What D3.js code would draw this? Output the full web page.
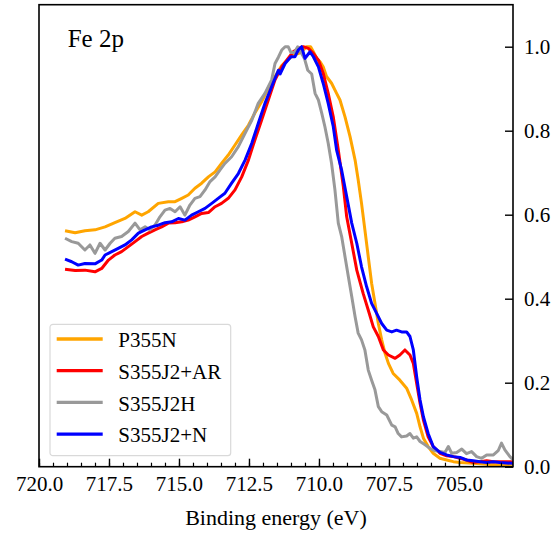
<!DOCTYPE html>
<html>
<head>
<meta charset="utf-8">
<script src="https://cdn.jsdelivr.net/npm/d3@7"></script>
<style>
  body { margin: 0; background: #fff; }
</style>
</head>
<body>
<div id="chart"></div>
<script>
// series names and colours (legend order)
var seriesNames = ["P355N", "S355J2+AR", "S355J2H", "S355J2+N"];
var seriesColors = ["#ffa500", "#ff0000", "#999999", "#0000ff"];

// [binding energy (eV), normalised intensity]
var p355n = [[719.07,0.562],[718.71,0.557],[718.36,0.562],[718.0,0.564],[717.64,0.571],[717.29,0.581],[716.93,0.591],[716.57,0.607],[716.33,0.599],[716.10,0.607],[715.74,0.627],[715.38,0.631],[715.14,0.631],[714.90,0.639],[714.67,0.647],[714.43,0.663],[714.19,0.675],[713.95,0.690],[713.71,0.702],[713.48,0.722],[713.24,0.742],[713.0,0.766],[712.76,0.790],[712.52,0.813],[712.29,0.842],[712.05,0.869],[711.81,0.901],[711.57,0.929],[711.33,0.955],[711.1,0.97],[710.9,0.98],[710.7,0.985],[710.55,0.993],[710.44,1.0],[710.3,1.0],[710.2,0.988],[710.08,0.972],[709.96,0.964],[709.85,0.952],[709.73,0.929],[709.55,0.913],[709.37,0.889],[709.25,0.873],[709.07,0.833],[708.89,0.786],[708.71,0.730],[708.60,0.683],[708.48,0.627],[708.36,0.564],[708.24,0.500],[708.12,0.437],[708.0,0.389],[707.88,0.341],[707.76,0.302],[707.64,0.270],[707.52,0.246],[707.35,0.222],[707.11,0.206],[706.87,0.187],[706.69,0.159],[706.51,0.127],[706.39,0.095],[706.27,0.068],[706.10,0.048],[705.92,0.032],[705.68,0.020],[705.44,0.016],[705.2,0.012],[704.96,0.010],[704.49,0.008],[704.01,0.006],[703.54,0.004],[703.06,0.006]];

var s355j2AR = [[719.07,0.470],[718.71,0.467],[718.36,0.468],[718.0,0.464],[717.76,0.472],[717.52,0.492],[717.29,0.504],[717.05,0.512],[716.81,0.524],[716.57,0.536],[716.33,0.548],[716.10,0.556],[715.86,0.564],[715.62,0.571],[715.38,0.580],[715.14,0.581],[714.90,0.583],[714.67,0.587],[714.43,0.595],[714.19,0.603],[713.95,0.605],[713.71,0.619],[713.48,0.627],[713.24,0.639],[713.0,0.659],[712.76,0.690],[712.52,0.730],[712.29,0.778],[712.05,0.825],[711.81,0.873],[711.57,0.921],[711.33,0.952],[711.15,0.968],[710.92,0.988],[710.74,0.996],[710.56,1.0],[710.38,0.996],[710.20,0.984],[710.02,0.968],[709.85,0.937],[709.67,0.889],[709.49,0.833],[709.31,0.754],[709.13,0.667],[709.01,0.595],[708.83,0.532],[708.65,0.468],[708.42,0.412],[708.24,0.373],[708.06,0.333],[707.88,0.310],[707.70,0.278],[707.52,0.266],[707.28,0.258],[707.11,0.266],[706.93,0.278],[706.75,0.266],[706.63,0.246],[706.51,0.198],[706.39,0.151],[706.27,0.111],[706.10,0.071],[705.92,0.048],[705.68,0.032],[705.44,0.026],[705.20,0.024],[704.96,0.020],[704.73,0.016],[704.49,0.010],[704.25,0.012],[704.01,0.014],[703.77,0.012],[703.54,0.012],[703.06,0.012]];

var s355j2H = [[719.07,0.544],[718.83,0.536],[718.60,0.532],[718.36,0.516],[718.18,0.528],[718.0,0.508],[717.82,0.532],[717.64,0.516],[717.46,0.532],[717.29,0.544],[717.05,0.548],[716.81,0.560],[716.57,0.580],[716.39,0.564],[716.21,0.571],[716.04,0.564],[715.86,0.575],[715.68,0.595],[715.50,0.611],[715.32,0.615],[715.14,0.607],[714.96,0.619],[714.79,0.599],[714.61,0.623],[714.43,0.639],[714.25,0.643],[714.07,0.659],[713.89,0.679],[713.71,0.690],[713.54,0.706],[713.36,0.722],[713.12,0.738],[712.88,0.762],[712.64,0.794],[712.40,0.825],[712.17,0.865],[711.93,0.889],[711.69,0.921],[711.57,0.960],[711.45,0.975],[711.33,0.992],[711.21,1.0],[711.10,1.0],[711.0,0.986],[710.88,0.986],[710.76,1.0],[710.64,0.986],[710.52,0.972],[710.40,0.944],[710.26,0.935],[710.14,0.889],[710.02,0.873],[709.90,0.841],[709.79,0.810],[709.67,0.770],[709.55,0.722],[709.43,0.659],[709.31,0.580],[709.19,0.548],[709.07,0.500],[708.95,0.452],[708.83,0.405],[708.71,0.357],[708.60,0.318],[708.48,0.302],[708.36,0.278],[708.24,0.230],[708.12,0.206],[708.0,0.183],[707.88,0.143],[707.76,0.131],[707.58,0.123],[707.40,0.099],[707.28,0.095],[707.17,0.079],[707.05,0.071],[706.87,0.073],[706.75,0.079],[706.63,0.068],[706.51,0.071],[706.39,0.060],[706.21,0.052],[706.04,0.044],[705.86,0.038],[705.68,0.036],[705.50,0.034],[705.38,0.048],[705.26,0.032],[705.08,0.034],[704.90,0.042],[704.73,0.031],[704.55,0.036],[704.37,0.024],[704.19,0.020],[704.01,0.028],[703.77,0.028],[703.60,0.038],[703.48,0.056],[703.36,0.040],[703.18,0.024],[703.06,0.016]];

var s355j2N = [[719.07,0.494],[718.83,0.488],[718.60,0.480],[718.36,0.484],[718.0,0.483],[717.76,0.492],[717.64,0.504],[717.40,0.512],[717.17,0.520],[716.93,0.528],[716.69,0.540],[716.45,0.556],[716.21,0.564],[715.98,0.571],[715.74,0.575],[715.50,0.581],[715.26,0.583],[715.02,0.591],[714.79,0.587],[714.55,0.599],[714.31,0.607],[714.07,0.615],[713.83,0.627],[713.60,0.639],[713.36,0.651],[713.12,0.675],[712.88,0.698],[712.64,0.730],[712.40,0.770],[712.17,0.817],[711.93,0.865],[711.69,0.905],[711.45,0.944],[711.39,0.935],[711.21,0.960],[711.0,0.976],[710.86,0.976],[710.74,0.992],[710.62,1.0],[710.50,0.972],[710.32,0.988],[710.20,0.976],[710.02,0.952],[709.85,0.913],[709.67,0.865],[709.49,0.810],[709.37,0.754],[709.19,0.706],[709.01,0.643],[708.83,0.580],[708.65,0.532],[708.48,0.476],[708.30,0.429],[708.12,0.389],[707.94,0.365],[707.76,0.341],[707.58,0.325],[707.40,0.321],[707.23,0.325],[707.05,0.321],[706.87,0.321],[706.75,0.310],[706.63,0.278],[706.51,0.214],[706.39,0.159],[706.27,0.119],[706.10,0.079],[705.92,0.048],[705.68,0.034],[705.44,0.028],[705.20,0.024],[704.96,0.022],[704.73,0.016],[704.49,0.014],[704.25,0.012],[704.01,0.010],[703.77,0.012],[703.54,0.010],[703.06,0.008]];

// tick values
var xTicks = [720.0, 717.5, 715.0, 712.5, 710.0, 707.5, 705.0];
var yTicks = [0.0, 0.2, 0.4, 0.6, 0.8, 1.0];

var allSeries = [p355n, s355j2AR, s355j2H, s355j2N];

var serifFont = "Liberation Serif";

var svgWidth = 560;
var svgHeight = 535;

var margin = { top: 4.7, right: 47, bottom: 68.3, left: 39 };
var width = svgWidth - margin.left - margin.right;
var height = svgHeight - margin.top - margin.bottom;

var svg = d3.select("#chart")
  .append("svg")
  .attr("width", svgWidth)
  .attr("height", svgHeight)
  .attr("font-family", serifFont);

var chartGroup = svg.append("g")
  .attr("transform", `translate(${margin.left}, ${margin.top})`);

// reversed energy axis
var xScale = d3.scaleLinear()
  .domain([720, 703.07])
  .range([0, width]);

var yScale = d3.scaleLinear()
  .domain([0, 1.1])
  .range([height, 0]);

// clip lines to the plot area
svg.append("defs").append("clipPath")
  .attr("id", "plot-clip")
  .append("rect")
  .attr("width", width)
  .attr("height", height);

var line = d3.line()
  .x(d => xScale(d[0]))
  .y(d => yScale(d[1]));

chartGroup.append("g")
  .attr("clip-path", "url(#plot-clip)")
  .selectAll("path")
  .data(allSeries)
  .enter()
  .append("path")
  .attr("d", line)
  .attr("fill", "none")
  .attr("stroke", (d, i) => seriesColors[i])
  .attr("stroke-width", 3)
  .attr("stroke-linejoin", "round");

// minor ticks on the bottom axis, every 0.5 eV
var minorTicks = d3.range(720, 703.0, -0.5);
var minorAxis = d3.axisBottom(xScale)
  .tickValues(minorTicks)
  .tickSize(-4)
  .tickFormat("");

chartGroup.append("g")
  .attr("transform", `translate(0, ${height})`)
  .call(minorAxis)
  .call(g => g.select(".domain").remove())
  .selectAll("line")
  .attr("stroke-width", 1.2);

// bottom axis (fonts set after the call, which resets them)
var bottomAxis = d3.axisBottom(xScale)
  .tickValues(xTicks)
  .tickSizeInner(-8)
  .tickSizeOuter(0)
  .tickPadding(9.5)
  .tickFormat(d3.format(".1f"));

chartGroup.append("g")
  .attr("transform", `translate(0, ${height})`)
  .call(bottomAxis)
  .attr("font-family", serifFont)
  .attr("font-size", 21)
  .call(g => g.select(".domain").remove())
  .call(g => g.selectAll("line").attr("stroke-width", 1.4));

// right axis
var rightAxis = d3.axisRight(yScale)
  .tickValues(yTicks)
  .tickSizeInner(-8)
  .tickSizeOuter(0)
  .tickPadding(11)
  .tickFormat(d3.format(".1f"));

chartGroup.append("g")
  .attr("transform", `translate(${width}, 0)`)
  .call(rightAxis)
  .attr("font-family", serifFont)
  .attr("font-size", 21)
  .call(g => g.select(".domain").remove())
  .call(g => g.selectAll("line").attr("stroke-width", 1.4));

// frame
chartGroup.append("rect")
  .attr("width", width)
  .attr("height", height)
  .attr("fill", "none")
  .attr("stroke", "#000")
  .attr("stroke-width", 1.6);

// panel label
chartGroup.append("text")
  .attr("x", 28.7)
  .attr("y", 42)
  .attr("font-family", serifFont)
  .attr("font-size", 25)
  .text("Fe 2p");

// x axis label
chartGroup.append("text")
  .attr("x", width / 2)
  .attr("y", 520.3)
  .attr("text-anchor", "middle")
  .attr("font-family", serifFont)
  .attr("font-size", 22)
  .text("Binding energy (eV)");

// legend
var legend = chartGroup.append("g")
  .attr("transform", "translate(11, 319.6)");

legend.append("rect")
  .attr("width", 180.7)
  .attr("height", 131.4)
  .attr("rx", 3)
  .attr("fill", "#fff")
  .attr("fill-opacity", 0.8)
  .attr("stroke", "#d9d9d9")
  .attr("stroke-width", 1.2);

var legendItems = legend.selectAll(".legend-item")
  .data(seriesNames)
  .enter()
  .append("g")
  .attr("class", "legend-item")
  .attr("transform", (d, i) => `translate(0, ${14.7 + i * 31.7})`);

legendItems.append("line")
  .attr("x1", 6.7)
  .attr("x2", 52.7)
  .attr("stroke", (d, i) => seriesColors[i])
  .attr("stroke-width", 3.3);

legendItems.append("text")
  .attr("x", 68.3)
  .attr("y", 8.3)
  .attr("font-family", serifFont)
  .attr("font-size", 21)
  .text(d => d);
</script>
</body>
</html>
